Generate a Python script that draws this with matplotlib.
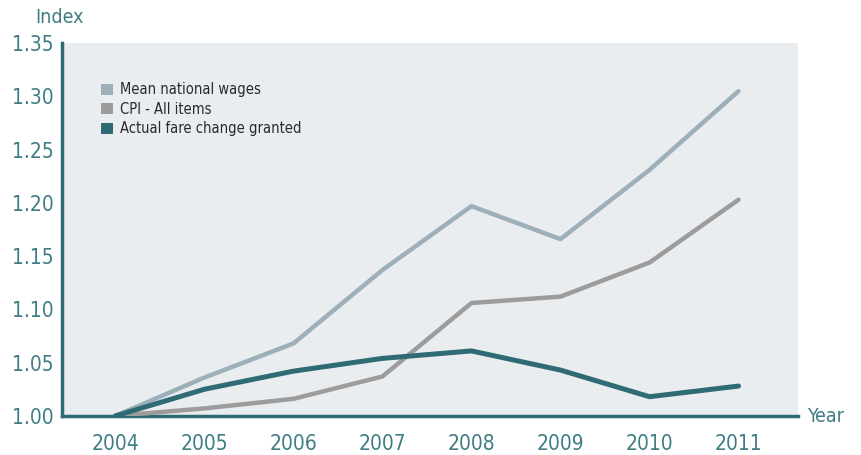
import matplotlib
matplotlib.use("Agg")
import matplotlib.pyplot as plt
from matplotlib.patches import Patch

plt.rcParams['font.family'] = ['Liberation Sans Narrow', 'DejaVu Sans']
plt.rcParams['font.stretch'] = 'condensed'

# data
years = [2004, 2005, 2006, 2007, 2008, 2009, 2010, 2011]
wages = [1.000, 1.036, 1.068, 1.137, 1.197, 1.166, 1.231, 1.305]
cpi = [1.000, 1.007, 1.016, 1.037, 1.106, 1.112, 1.144, 1.203]
fare = [1.000, 1.025, 1.042, 1.054, 1.061, 1.043, 1.018, 1.028]
yticks = [1.00, 1.05, 1.10, 1.15, 1.20, 1.25, 1.30, 1.35]

teal = '#2f6b74'
label_col = '#3f7d84'
colors = {'Mean national wages': '#9dafb8',
          'CPI - All items': '#9c9c9c',
          'Actual fare change granted': teal}

fig = plt.figure(figsize=(8.61, 4.55), dpi=100)
ax = fig.add_axes([0.072, 0.086, 0.855, 0.819])
ax.set_facecolor('#e9edf0')

ax.plot(years, wages, color=colors['Mean national wages'], lw=3.2, solid_capstyle='round', zorder=3)
ax.plot(years, cpi, color=colors['CPI - All items'], lw=3.2, solid_capstyle='round', zorder=3)
ax.plot(years, fare, color=teal, lw=3.6, solid_capstyle='round', zorder=4)

ax.set_xlim(2003.4, 2011.67)
ax.set_ylim(1.0, 1.35)
ax.set_xticks(years)
ax.set_xticklabels([str(y) for y in years])
ax.set_yticks(yticks)
ax.set_yticklabels([f"{v:.2f}" for v in yticks])
ax.tick_params(length=0, labelsize=15, labelcolor=label_col)
ax.tick_params(axis='x', pad=13)
ax.tick_params(axis='y', pad=6)

for s in ['top', 'right']:
    ax.spines[s].set_visible(False)
for s in ['left', 'bottom']:
    ax.spines[s].set_color(teal)
    ax.spines[s].set_linewidth(2.5)

fig.text(0.041, 0.962, 'Index', fontsize=14, color=label_col, va='center')
fig.text(0.937, 0.085, 'Year', fontsize=14, color=label_col, va='center')

handles = [Patch(facecolor=c, edgecolor='none') for c in colors.values()]
leg = ax.legend(handles, list(colors.keys()), loc='upper left',
                bbox_to_anchor=(0.035, 0.93), frameon=False, fontsize=10.5,
                handlelength=0.8, handleheight=0.8, handletextpad=0.5,
                labelspacing=0.3)
for t in leg.get_texts():
    t.set_color('#2a2a2a')

fig.savefig('out.png', dpi=100)
